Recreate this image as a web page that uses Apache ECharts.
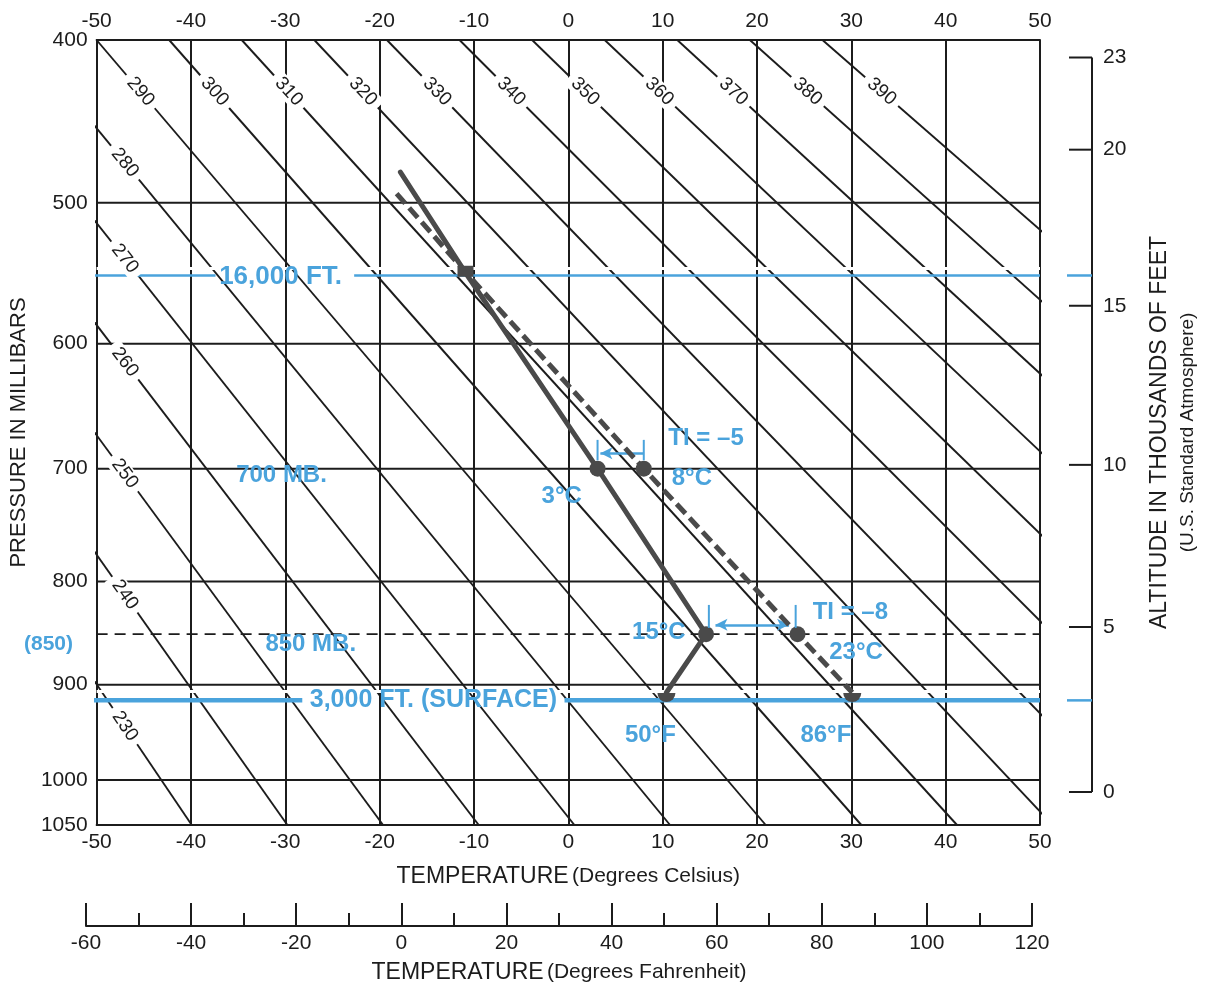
<!DOCTYPE html>
<html><head><meta charset="utf-8">
<script src="https://cdn.jsdelivr.net/npm/echarts@6/dist/echarts.min.js"></script>
<style>html,body{margin:0;padding:0;background:#fff}#c{width:1206px;height:989px}</style>
</head><body><div id="c"></div>
<script>
// ---------------- data ----------------
const pressureTicks = [400, 500, 600, 700, 800, 900, 1000, 1050];
const isobars = [400, 500, 600, 700, 800, 900, 1000, 1050];
const celsiusTicks = [-50, -40, -30, -20, -10, 0, 10, 20, 30, 40, 50];
const fahrenheitTicks = [-60, -40, -20, 0, 20, 40, 60, 80, 100, 120];
const altitudeTicksKft = [0, 5, 10, 15, 20, 23];
const thetaTop = [290, 300, 310, 320, 330, 340, 350, 360, 370, 380, 390];
const thetaLeft = [230, 240, 250, 260, 270, 280];
const levelDashedP = 850;
const refLevelP = [550, 916];
const whiteStripeP = [545, 907];
const envPressure = [480, 549, 700, 850, 908];
const envTemp = [-17.8, -10.8, 3.1, 14.6, 10.4];
const parcelPressure = [494, 549, 700, 850, 908];
const parcelTemp = [-18.2, -10.7, 8.0, 24.3, 30.1];
const dotPressure = [700, 700, 850, 850];
const dotTemp = [3.1, 8.0, 14.6, 24.3];
const surfaceTemp = [10.4, 30.1];
const surfacePressure = [908, 908];
const levelMarkT = -10.9, levelMarkP = 547;
// TI annotation: [T, pTop, pBottom]
const tiTicks = [[3.1, 676, 693], [8.0, 676, 693], [14.9, 822, 844], [24.1, 822, 844]];
const tiArrow700 = { from: 8.0, to: 3.4, p: 687 };
const tiArrow850 = { from: 15.6, to: 23.4, p: 841 };
const notes = [
  { text: '16,000 FT.', t: -30.5, p: 551, size: 26 },
  { text: '3,000 FT. (SURFACE)', t: -14.3, p: 916, size: 25 },
  { text: '700 MB.', t: -30.4, p: 706, size: 24 },
  { text: '850 MB.', t: -27.3, p: 860, size: 24 },
  { text: '(850)', t: -55.1, p: 860, size: 21 },
  { text: 'TI = –5', t: 14.6, p: 675, size: 24 },
  { text: '8°C', t: 13.1, p: 708, size: 24 },
  { text: '3°C', t: -0.7, p: 724, size: 24 },
  { text: 'TI = –8', t: 29.9, p: 829, size: 24 },
  { text: '15°C', t: 9.6, p: 848, size: 24 },
  { text: '23°C', t: 30.5, p: 868, size: 24 },
  { text: '50°F', t: 8.7, p: 952, size: 24 },
  { text: '86°F', t: 27.3, p: 952, size: 24 }
];
const refLevelGaps = [[-37.4, -22.7], [-28.2, -0.4]];

// ---------------- helpers ----------------
const K = 0.286;
const U = p => Math.pow(p, K);
const P = u => Math.pow(u, 1 / K);
const thetaT = (th, p) => th * Math.pow(p / 1000, K) - 273.15;
const thetaPatT = (th, t) => 1000 * Math.pow((t + 273.15) / th, 1 / K);
const altToP = kft => 1013.25 * Math.pow(1 - 6.8756e-6 * kft * 1000, 5.2559);
const pToAlt = p => (1 - Math.pow(p / 1013.25, 1 / 5.2559)) / 6.8756e-6 / 1000;

const BLUE = '#4aa3dc', INK = '#1c1c1c', SOUND = '#4a4a4a';
const FONT = '"Liberation Sans", Arial, Helvetica, sans-serif';
const TMIN = celsiusTicks[0], TMAX = celsiusTicks[celsiusTicks.length - 1];
const PMIN = pressureTicks[0], PMAX = pressureTicks[pressureTicks.length - 1];

function seg(points, lineStyle, extra) {
  return Object.assign({
    type: 'line', xAxisIndex: 0, yAxisIndex: 0, symbol: 'none', silent: true,
    data: points.map(([t, p]) => [t, U(p)]), lineStyle: lineStyle
  }, extra || {});
}

const series = [];
// dry adiabats
thetaTop.concat(thetaLeft).forEach(th => {
  series.push(seg([[thetaT(th, PMIN), PMIN], [thetaT(th, PMAX), PMAX]], { color: INK, width: 1.9 }, { z: 2 }));
});
// isobars
isobars.forEach(p => series.push(seg([[TMIN, p], [TMAX, p]], { color: INK, width: 2 }, { z: 2 })));
series.push(seg([[TMIN, levelDashedP], [TMAX, levelDashedP]], { color: INK, width: 1.6, type: [11, 7] }, { z: 2 }));
// white print stripes
whiteStripeP.forEach(p => series.push(seg([[TMIN, p], [TMAX, p]], { color: '#ffffff', width: 3 }, { z: 3 })));
// blue reference levels
refLevelP.forEach((p, i) => {
  const w = i === 0 ? 2.5 : 4.5;
  series.push(seg([[-50.6, p], [refLevelGaps[i][0], p]], { color: BLUE, width: w }, { z: 4, clip: false }));
  series.push(seg([[refLevelGaps[i][1], p], [TMAX, p]], { color: BLUE, width: w }, { z: 4, clip: false }));
});
// soundings
series.push(seg(envPressure.map((p, i) => [envTemp[i], p]), { color: SOUND, width: 5, cap: 'round', join: 'round' }, { z: 6 }));
series.push(seg(parcelPressure.map((p, i) => [parcelTemp[i], p]), { color: SOUND, width: 5, type: [13, 6] }, { z: 6 }));
series.push({
  type: 'scatter', xAxisIndex: 0, yAxisIndex: 0, silent: true, z: 7,
  symbol: 'circle', symbolSize: 16, itemStyle: { color: SOUND, opacity: 1 },
  data: dotPressure.map((p, i) => [dotTemp[i], U(p)])
});
series.push({
  type: 'scatter', xAxisIndex: 0, yAxisIndex: 0, silent: true, z: 7,
  symbol: 'path://M0,0 L20,0 A10,10 0 0,1 0,0 Z', symbolSize: [18, 9], symbolOffset: [0, 5],
  itemStyle: { color: SOUND, opacity: 1 },
  data: surfacePressure.map((p, i) => [surfaceTemp[i], U(p)])
});
series.push({
  type: 'scatter', xAxisIndex: 0, yAxisIndex: 0, silent: true, z: 7,
  symbol: 'rect', symbolSize: [16, 11], itemStyle: { color: SOUND, opacity: 1 },
  data: [[levelMarkT, U(levelMarkP)]]
});
// TI ticks
tiTicks.forEach(([t, p1, p2]) => series.push(seg([[t, p1], [t, p2]], { color: BLUE, width: 2 }, { z: 8 })));
// TI arrows
function arrow(a, syms) {
  return {
    type: 'line', xAxisIndex: 0, yAxisIndex: 0, data: [], silent: true, z: 8,
    markLine: {
      silent: true, animation: false, symbol: syms, symbolSize: [9, 12],
      lineStyle: { color: BLUE, width: 2.5, type: 'solid' }, label: { show: false },
      data: [[{ coord: [a.from, U(a.p)] }, { coord: [a.to, U(a.p)] }]]
    }
  };
}
series.push(arrow(tiArrow700, ['none', 'arrow']));
series.push(arrow(tiArrow850, ['arrow', 'arrow']));
// notes
series.push({
  type: 'scatter', xAxisIndex: 0, yAxisIndex: 0, silent: true, z: 9, clip: false,
  symbolSize: 0, itemStyle: { opacity: 1 },
  label: { show: true, position: 'inside', formatter: '{b}', color: BLUE, fontFamily: FONT, fontWeight: 'bold', fontSize: 24 },
  data: notes.map(n => ({ name: n.text, value: [n.t, U(n.p)], label: { fontSize: n.size } }))
});
// theta labels (rotation set after first layout)
const labelSeriesIndex = series.length;
const thetaLabelStyle = { show: true, position: 'inside', formatter: '{b}', color: INK, fontFamily: FONT, fontSize: 19,
  backgroundColor: '#ffffff', padding: [0, 6] };
function thetaLabelData(rotFn) {
  const top = thetaTop.map(th => ({ name: String(th), value: [thetaT(th, 430), U(430)],
    label: Object.assign({}, thetaLabelStyle, { rotate: rotFn(th) }) }));
  const left = thetaLeft.map(th => ({ name: String(th), value: [-47, U(thetaPatT(th, -47))],
    label: Object.assign({}, thetaLabelStyle, { rotate: rotFn(th) }) }));
  return top.concat(left);
}
series.push({
  type: 'scatter', xAxisIndex: 0, yAxisIndex: 0, silent: true, z: 5, symbolSize: 0,
  itemStyle: { opacity: 1 },
  label: thetaLabelStyle,
  data: thetaLabelData(() => -45)
});
// right altitude axis line, ticks + blue level ticks
series.push({
  type: 'line', xAxisIndex: 2, yAxisIndex: 1, symbol: 'none', silent: true, clip: false,
  lineStyle: { color: INK, width: 2 },
  data: [[1, U(altToP(altitudeTicksKft[0]))], [1, U(altToP(altitudeTicksKft[altitudeTicksKft.length - 1]))]]
});
altitudeTicksKft.forEach(h => series.push({
  type: 'line', xAxisIndex: 2, yAxisIndex: 1, symbol: 'none', silent: true, clip: false,
  lineStyle: { color: INK, width: 2 }, data: [[0.08, U(altToP(h))], [1, U(altToP(h))]]
}));
refLevelP.forEach(p => series.push({
  type: 'line', xAxisIndex: 2, yAxisIndex: 1, symbol: 'none', silent: true, clip: false,
  lineStyle: { color: BLUE, width: 2.5 }, data: [[0, U(p)], [1, U(p)]]
}));
// invisible series for F axis grid
series.push({ type: 'line', xAxisIndex: 3, yAxisIndex: 2, data: [], silent: true });

const labelStyle = { color: INK, fontFamily: FONT, fontSize: 21 };
const titleRich = { a: { fontSize: 23, color: INK, fontFamily: FONT }, b: { fontSize: 21, color: INK, fontFamily: FONT } };
const option = {
  animation: false,
  backgroundColor: '#ffffff',
  textStyle: { fontFamily: FONT },
  grid: [
    { left: 94, top: 40, width: 946, height: 785 },
    { left: 1067, top: 40, width: 25, height: 785 },
    { left: 86, top: 880, width: 946, height: 46 }
  ],
  xAxis: [
    { type: 'value', gridIndex: 0, min: TMIN, max: TMAX, interval: 10, position: 'bottom',
      axisLine: { show: true, onZero: false, lineStyle: { color: INK, width: 2 } },
      axisTick: { show: false },
      axisLabel: Object.assign({ margin: 7 }, labelStyle),
      splitLine: { show: true, lineStyle: { color: INK, width: 2 } },
      name: '{a|TEMPERATURE} {b|(Degrees Celsius)}', nameLocation: 'middle', nameGap: 40,
      nameTextStyle: { rich: titleRich } },
    { type: 'value', gridIndex: 0, min: TMIN, max: TMAX, interval: 10, position: 'top',
      axisLine: { show: true, onZero: false, lineStyle: { color: INK, width: 2 } },
      axisTick: { show: false },
      axisLabel: Object.assign({ margin: 8 }, labelStyle),
      splitLine: { show: false } },
    { type: 'value', gridIndex: 1, min: 0, max: 1, show: false },
    { type: 'value', gridIndex: 2, min: fahrenheitTicks[0], max: fahrenheitTicks[fahrenheitTicks.length - 1], interval: 20,
      position: 'bottom',
      axisLine: { show: true, onZero: false, lineStyle: { color: INK, width: 2 } },
      axisTick: { show: true, inside: true, length: 23, lineStyle: { color: INK, width: 2 } },
      minorTick: { show: true, splitNumber: 2, length: 13, lineStyle: { color: INK, width: 2 } },
      axisLabel: Object.assign({ margin: 7 }, labelStyle),
      splitLine: { show: false },
      name: '{a|TEMPERATURE} {b|(Degrees Fahrenheit)}', nameLocation: 'middle', nameGap: 35,
      nameTextStyle: { rich: titleRich } }
  ],
  yAxis: [
    { type: 'value', gridIndex: 0, inverse: true, min: U(PMIN), max: U(PMAX), position: 'left',
      axisLine: { show: true, onZero: false, lineStyle: { color: INK, width: 2 } },
      axisTick: { show: false },
      splitLine: { show: false },
      axisLabel: Object.assign({ margin: 9, customValues: pressureTicks.map(U),
        formatter: v => String(Math.round(P(v))) }, labelStyle),
      name: 'PRESSURE IN MILLIBARS', nameLocation: 'middle', nameRotate: 90, nameGap: 63,
      nameTextStyle: { fontSize: 22, color: INK, fontFamily: FONT } },
    { type: 'value', gridIndex: 1, inverse: true, min: U(PMIN), max: U(PMAX), position: 'right',
      axisLine: { show: false },
      axisTick: { show: false },
      splitLine: { show: false },
      axisLabel: Object.assign({ margin: 11, customValues: altitudeTicksKft.map(h => U(altToP(h))),
        formatter: v => String(Math.round(pToAlt(P(v)))) }, labelStyle),
      name: '{a|ALTITUDE IN THOUSANDS OF FEET}\n{b|(U.S. Standard Atmosphere)}', nameLocation: 'middle',
      nameRotate: 90, nameGap: 53,
      nameTextStyle: { align: 'center', rich: { a: { fontSize: 23, color: INK, fontFamily: FONT, lineHeight: 30 },
        b: { fontSize: 19, color: INK, fontFamily: FONT, lineHeight: 26 } } } },
    { type: 'value', gridIndex: 2, show: false, min: 0, max: 1 }
  ],
  series: series
};

const chart = echarts.init(document.getElementById('c'), null, { renderer: 'canvas' });
chart.setOption(option);
// rotate theta labels along their lines using the chart's own scales
const rotFn = th => {
  const a = chart.convertToPixel({ gridIndex: 0 }, [thetaT(th, PMIN), U(PMIN)]);
  const b = chart.convertToPixel({ gridIndex: 0 }, [thetaT(th, PMAX), U(PMAX)]);
  return -Math.atan2(b[1] - a[1], b[0] - a[0]) * 180 / Math.PI;
};
const upd = option.series.slice();
upd[labelSeriesIndex] = Object.assign({}, upd[labelSeriesIndex], { data: thetaLabelData(rotFn) });
chart.setOption({ series: upd });
</script>
</body></html>
